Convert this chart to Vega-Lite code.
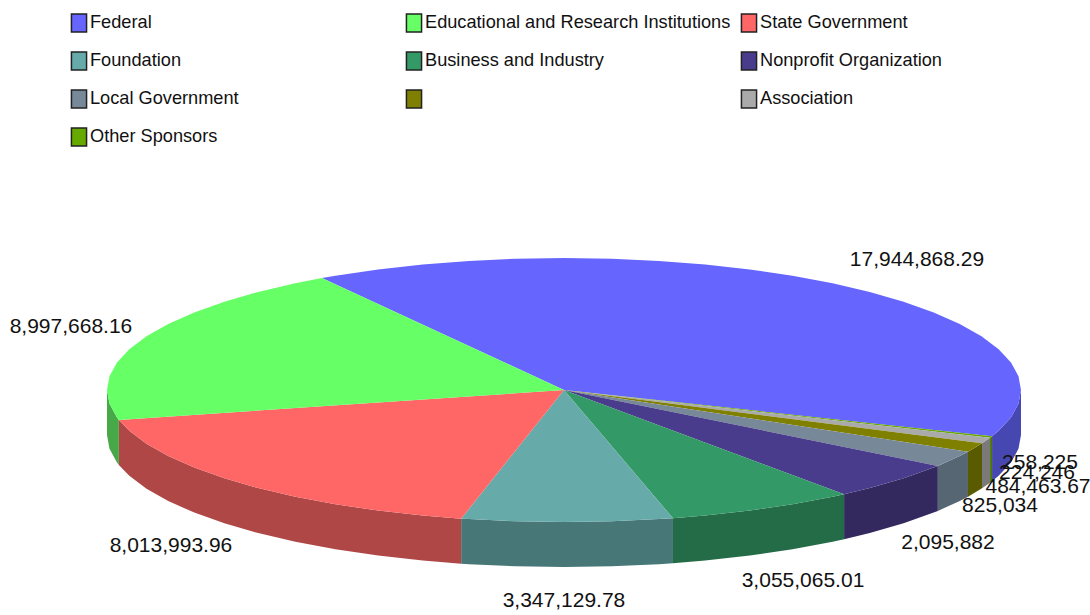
{
"$schema":"https://vega.github.io/schema/vega-lite/v6.json",
"width":1090,"height":615,"padding":0,"autosize":{"type":"none"},
"background":"white",
"config":{"view":{"stroke":null}},
"datasets":{
"walls":[
{"s":"Federal","x":1,"y":0,"y2":-0.341},{"s":"Federal","x":0.9945,"y":-0.1045,"y2":-0.4455},{"s":"Federal","x":0.9781,"y":-0.2079,"y2":-0.5489},{"s":"Federal","x":0.9511,"y":-0.309,"y2":-0.65},{"s":"Federal","x":0.9367,"y":-0.3502,"y2":-0.6912},
{"s":"Other Sponsors","x":0.9367,"y":-0.3502,"y2":-0.6912},{"s":"Other Sponsors","x":0.9323,"y":-0.3616,"y2":-0.7026},
{"s":"Association","x":0.9323,"y":-0.3616,"y2":-0.7026},{"s":"Association","x":0.9147,"y":-0.404,"y2":-0.745},
{"s":" ","x":0.9147,"y":-0.404,"y2":-0.745},{"s":" ","x":0.884,"y":-0.467,"y2":-0.808},
{"s":"Local Government","x":0.884,"y":-0.467,"y2":-0.808},{"s":"Local Government","x":0.866,"y":-0.5,"y2":-0.841},{"s":"Local Government","x":0.818,"y":-0.575,"y2":-0.916},
{"s":"Nonprofit Organization","x":0.818,"y":-0.575,"y2":-0.916},{"s":"Nonprofit Organization","x":0.7431,"y":-0.6691,"y2":-1.0101},{"s":"Nonprofit Organization","x":0.6691,"y":-0.7431,"y2":-1.0841},{"s":"Nonprofit Organization","x":0.6129,"y":-0.7902,"y2":-1.1312},
{"s":"Business and Industry","x":0.6129,"y":-0.7902,"y2":-1.1312},{"s":"Business and Industry","x":0.5878,"y":-0.809,"y2":-1.15},{"s":"Business and Industry","x":0.5,"y":-0.866,"y2":-1.207},{"s":"Business and Industry","x":0.4067,"y":-0.9135,"y2":-1.2545},{"s":"Business and Industry","x":0.309,"y":-0.9511,"y2":-1.2921},{"s":"Business and Industry","x":0.2385,"y":-0.9711,"y2":-1.3121},
{"s":"Foundation","x":0.2385,"y":-0.9711,"y2":-1.3121},{"s":"Foundation","x":0.2079,"y":-0.9781,"y2":-1.3191},{"s":"Foundation","x":0.1045,"y":-0.9945,"y2":-1.3355},{"s":"Foundation","x":0,"y":-1,"y2":-1.341},{"s":"Foundation","x":-0.1045,"y":-0.9945,"y2":-1.3355},{"s":"Foundation","x":-0.2079,"y":-0.9781,"y2":-1.3191},{"s":"Foundation","x":-0.225,"y":-0.9744,"y2":-1.3154},
{"s":"State Government","x":-0.225,"y":-0.9744,"y2":-1.3154},{"s":"State Government","x":-0.309,"y":-0.9511,"y2":-1.2921},{"s":"State Government","x":-0.4067,"y":-0.9135,"y2":-1.2545},{"s":"State Government","x":-0.5,"y":-0.866,"y2":-1.207},{"s":"State Government","x":-0.5878,"y":-0.809,"y2":-1.15},{"s":"State Government","x":-0.6691,"y":-0.7431,"y2":-1.0841},{"s":"State Government","x":-0.7431,"y":-0.6691,"y2":-1.0101},{"s":"State Government","x":-0.809,"y":-0.5878,"y2":-0.9288},{"s":"State Government","x":-0.866,"y":-0.5,"y2":-0.841},{"s":"State Government","x":-0.9135,"y":-0.4067,"y2":-0.7477},{"s":"State Government","x":-0.9511,"y":-0.309,"y2":-0.65},{"s":"State Government","x":-0.974,"y":-0.2267,"y2":-0.5677},
{"s":"Educational and Research Institutions","x":-0.974,"y":-0.2267,"y2":-0.5677},{"s":"Educational and Research Institutions","x":-0.9781,"y":-0.2079,"y2":-0.5489},{"s":"Educational and Research Institutions","x":-0.9945,"y":-0.1045,"y2":-0.4455},{"s":"Educational and Research Institutions","x":-1,"y":0,"y2":-0.341}
],
"faces":[
{"s":"Federal","i":0,"x":0,"y":0},{"s":"Federal","i":1,"x":-0.5299,"y":0.848},{"s":"Federal","i":2,"x":-0.5,"y":0.866},{"s":"Federal","i":3,"x":-0.4067,"y":0.9135},{"s":"Federal","i":4,"x":-0.309,"y":0.9511},{"s":"Federal","i":5,"x":-0.2079,"y":0.9781},{"s":"Federal","i":6,"x":-0.1045,"y":0.9945},{"s":"Federal","i":7,"x":0,"y":1},{"s":"Federal","i":8,"x":0.1045,"y":0.9945},{"s":"Federal","i":9,"x":0.2079,"y":0.9781},{"s":"Federal","i":10,"x":0.309,"y":0.9511},{"s":"Federal","i":11,"x":0.4067,"y":0.9135},{"s":"Federal","i":12,"x":0.5,"y":0.866},{"s":"Federal","i":13,"x":0.5878,"y":0.809},{"s":"Federal","i":14,"x":0.6691,"y":0.7431},{"s":"Federal","i":15,"x":0.7431,"y":0.6691},{"s":"Federal","i":16,"x":0.809,"y":0.5878},{"s":"Federal","i":17,"x":0.866,"y":0.5},{"s":"Federal","i":18,"x":0.9135,"y":0.4067},{"s":"Federal","i":19,"x":0.9511,"y":0.309},{"s":"Federal","i":20,"x":0.9781,"y":0.2079},{"s":"Federal","i":21,"x":0.9945,"y":0.1045},{"s":"Federal","i":22,"x":1,"y":0},{"s":"Federal","i":23,"x":0.9945,"y":-0.1045},{"s":"Federal","i":24,"x":0.9781,"y":-0.2079},{"s":"Federal","i":25,"x":0.9511,"y":-0.309},{"s":"Federal","i":26,"x":0.9367,"y":-0.3502},
{"s":"Other Sponsors","i":0,"x":0,"y":0},{"s":"Other Sponsors","i":1,"x":0.9367,"y":-0.3502},{"s":"Other Sponsors","i":2,"x":0.9323,"y":-0.3616},
{"s":"Association","i":0,"x":0,"y":0},{"s":"Association","i":1,"x":0.9323,"y":-0.3616},{"s":"Association","i":2,"x":0.9147,"y":-0.404},
{"s":" ","i":0,"x":0,"y":0},{"s":" ","i":1,"x":0.9147,"y":-0.404},{"s":" ","i":2,"x":0.884,"y":-0.467},
{"s":"Local Government","i":0,"x":0,"y":0},{"s":"Local Government","i":1,"x":0.884,"y":-0.467},{"s":"Local Government","i":2,"x":0.866,"y":-0.5},{"s":"Local Government","i":3,"x":0.818,"y":-0.575},
{"s":"Nonprofit Organization","i":0,"x":0,"y":0},{"s":"Nonprofit Organization","i":1,"x":0.818,"y":-0.575},{"s":"Nonprofit Organization","i":2,"x":0.7431,"y":-0.6691},{"s":"Nonprofit Organization","i":3,"x":0.6691,"y":-0.7431},{"s":"Nonprofit Organization","i":4,"x":0.6129,"y":-0.7902},
{"s":"Business and Industry","i":0,"x":0,"y":0},{"s":"Business and Industry","i":1,"x":0.6129,"y":-0.7902},{"s":"Business and Industry","i":2,"x":0.5878,"y":-0.809},{"s":"Business and Industry","i":3,"x":0.5,"y":-0.866},{"s":"Business and Industry","i":4,"x":0.4067,"y":-0.9135},{"s":"Business and Industry","i":5,"x":0.309,"y":-0.9511},{"s":"Business and Industry","i":6,"x":0.2385,"y":-0.9711},
{"s":"Foundation","i":0,"x":0,"y":0},{"s":"Foundation","i":1,"x":0.2385,"y":-0.9711},{"s":"Foundation","i":2,"x":0.2079,"y":-0.9781},{"s":"Foundation","i":3,"x":0.1045,"y":-0.9945},{"s":"Foundation","i":4,"x":0,"y":-1},{"s":"Foundation","i":5,"x":-0.1045,"y":-0.9945},{"s":"Foundation","i":6,"x":-0.2079,"y":-0.9781},{"s":"Foundation","i":7,"x":-0.225,"y":-0.9744},
{"s":"State Government","i":0,"x":0,"y":0},{"s":"State Government","i":1,"x":-0.225,"y":-0.9744},{"s":"State Government","i":2,"x":-0.309,"y":-0.9511},{"s":"State Government","i":3,"x":-0.4067,"y":-0.9135},{"s":"State Government","i":4,"x":-0.5,"y":-0.866},{"s":"State Government","i":5,"x":-0.5878,"y":-0.809},{"s":"State Government","i":6,"x":-0.6691,"y":-0.7431},{"s":"State Government","i":7,"x":-0.7431,"y":-0.6691},{"s":"State Government","i":8,"x":-0.809,"y":-0.5878},{"s":"State Government","i":9,"x":-0.866,"y":-0.5},{"s":"State Government","i":10,"x":-0.9135,"y":-0.4067},{"s":"State Government","i":11,"x":-0.9511,"y":-0.309},{"s":"State Government","i":12,"x":-0.974,"y":-0.2267},
{"s":"Educational and Research Institutions","i":0,"x":0,"y":0},{"s":"Educational and Research Institutions","i":1,"x":-0.974,"y":-0.2267},{"s":"Educational and Research Institutions","i":2,"x":-0.9781,"y":-0.2079},{"s":"Educational and Research Institutions","i":3,"x":-0.9945,"y":-0.1045},{"s":"Educational and Research Institutions","i":4,"x":-1,"y":0},{"s":"Educational and Research Institutions","i":5,"x":-0.9945,"y":0.1045},{"s":"Educational and Research Institutions","i":6,"x":-0.9781,"y":0.2079},{"s":"Educational and Research Institutions","i":7,"x":-0.9511,"y":0.309},{"s":"Educational and Research Institutions","i":8,"x":-0.9135,"y":0.4067},{"s":"Educational and Research Institutions","i":9,"x":-0.866,"y":0.5},{"s":"Educational and Research Institutions","i":10,"x":-0.809,"y":0.5878},{"s":"Educational and Research Institutions","i":11,"x":-0.7431,"y":0.6691},{"s":"Educational and Research Institutions","i":12,"x":-0.6691,"y":0.7431},{"s":"Educational and Research Institutions","i":13,"x":-0.5878,"y":0.809},{"s":"Educational and Research Institutions","i":14,"x":-0.5299,"y":0.848}
],
"labels":[
{"label":"17,944,868.29","x":0.7724,"y":0.9848},
{"label":"8,997,668.16","x":-1.0788,"y":0.4773},
{"label":"8,013,993.96","x":-0.86,"y":-1.1818},
{"label":"3,347,129.78","x":0,"y":-1.5985},
{"label":"3,055,065.01","x":0.523,"y":-1.447},
{"label":"2,095,882","x":0.8403,"y":-1.1591},
{"label":"825,034","x":0.954,"y":-0.8788},
{"label":"484,463.67","x":1.0372,"y":-0.7348},
{"label":"224,246","x":1.035,"y":-0.6288},
{"label":"258,225","x":1.0416,"y":-0.553}
]
},
"resolve":{"scale":{"fill":"independent"}},
"layer":[
{"data":{"name":"walls"},
 "mark":{"type":"area","orient":"vertical","clip":false},
 "encoding":{
  "x":{"field":"x","type":"quantitative","scale":{"domain":[-1.2341,1.151],"nice":false,"zero":false},"axis":null},
  "y":{"field":"y","type":"quantitative","scale":{"domain":[-1.7045,2.9545],"nice":false,"zero":false},"axis":null},
  "y2":{"field":"y2"},
  "fill":{"field":"s","type":"nominal","legend":null,"scale":{
   "domain":["Federal","Educational and Research Institutions","State Government","Foundation","Business and Industry","Nonprofit Organization","Local Government"," ","Association","Other Sponsors"],
   "range":["#4747B2","#47A847","#B04747","#477777","#246B47","#33295F","#566672","#5A5A00","#7A7A7A","#4D7700"]}}
 }},
{"data":{"name":"faces"},
 "mark":{"type":"line","strokeWidth":0,"clip":false},
 "encoding":{
  "x":{"field":"x","type":"quantitative","scale":{"domain":[-1.2341,1.151],"nice":false,"zero":false},"axis":null},
  "y":{"field":"y","type":"quantitative","scale":{"domain":[-1.7045,2.9545],"nice":false,"zero":false},"axis":null},
  "order":{"field":"i","type":"quantitative"},
  "fill":{"field":"s","type":"nominal","scale":{
   "domain":["Federal","Educational and Research Institutions","State Government","Foundation","Business and Industry","Nonprofit Organization","Local Government"," ","Association","Other Sponsors"],
   "range":["#6666FF","#66FF66","#FF6666","#66AAAA","#339966","#4A3C8C","#778899","#808000","#AAAAAA","#66AA00"]},
   "legend":{"title":null,"orient":"none","legendX":69,"legendY":13,"columns":3,"direction":"horizontal","gridAlign":"all","columnPadding":7,"rowPadding":14,"symbolType":"M-0.84,-1H0.84V1H-0.84Z","symbolSize":324,"symbolStrokeColor":"#222222","symbolStrokeWidth":1.5,"labelFont":"Liberation Sans","labelFontSize":18.2,"labelColor":"#111111","labelLimit":400,"labelOffset":1}}
 }},
{"data":{"name":"labels"},
 "mark":{"type":"text","font":"Liberation Sans","fontSize":21,"color":"#111111","align":"center","baseline":"middle","clip":false},
 "encoding":{
  "x":{"field":"x","type":"quantitative","scale":{"domain":[-1.2341,1.151],"nice":false,"zero":false},"axis":null},
  "y":{"field":"y","type":"quantitative","scale":{"domain":[-1.7045,2.9545],"nice":false,"zero":false},"axis":null},
  "text":{"field":"label","type":"nominal"}
 }}
]
}
